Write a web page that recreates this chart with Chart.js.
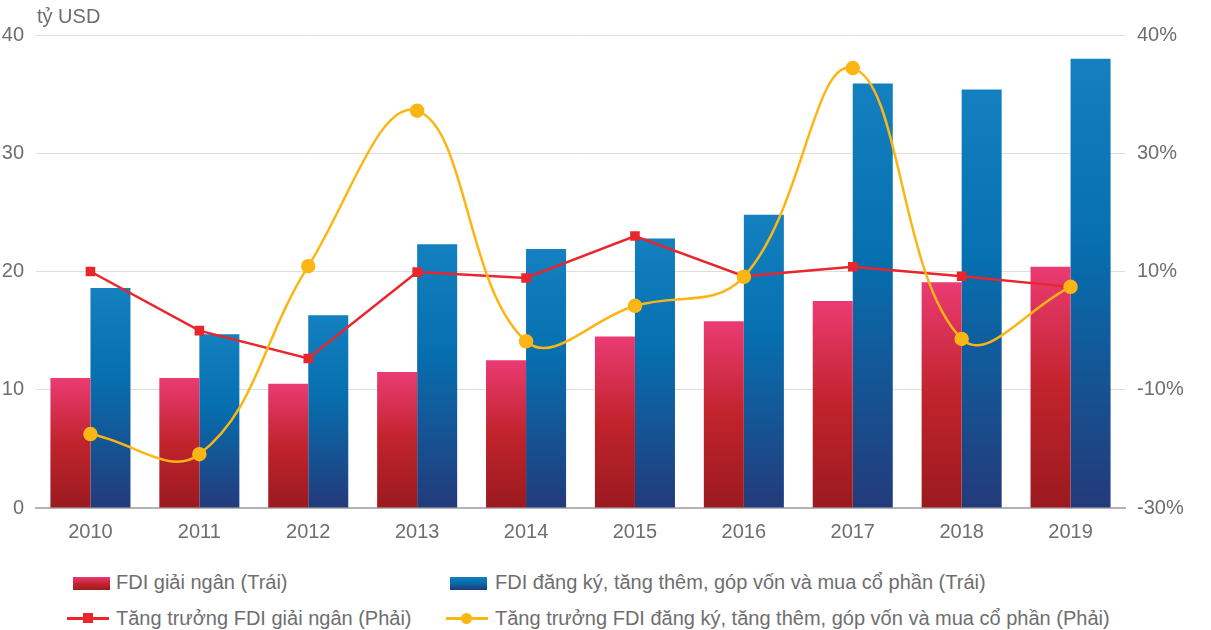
<!DOCTYPE html>
<html>
<head>
<meta charset="utf-8">
<script src="https://cdn.jsdelivr.net/npm/chart.js@4"></script>
<style>
  body { margin: 0; background: #fff; font-family: "Liberation Sans", Arial, sans-serif; }
  #wrap { position: relative; width: 1211px; height: 630px; }
  #chartBox { position: absolute; left: 0; top: 0; width: 1211px; height: 560px; }
  .unit { position: absolute; left: 37px; top: 5px; font-size: 20px; color: #6e6e6e; }
  .lg { position: absolute; font-size: 20px; color: #6e6e6e; white-space: nowrap; line-height: 22px; }
  .box { position: absolute; width: 37px; height: 13px; }
  .ln { position: absolute; height: 3px; }
  .mk { position: absolute; }
</style>
</head>
<body>
<div id="wrap">
  <div id="chartBox"><canvas id="fdiChart" width="1211" height="560"></canvas></div>
  <div class="unit">tỷ USD</div>

  <!-- legend -->
  <div class="box" style="left:73px;top:577px;background:linear-gradient(#e93a72,#c0232c 55%,#9b1b1f);"></div>
  <div class="lg" style="left:116px;top:571px;">FDI giải ngân (Trái)</div>
  <div class="box" style="left:450px;top:577px;background:linear-gradient(#1380bf,#0670b0 40%,#23397a);"></div>
  <div class="lg" style="left:495px;top:571px;">FDI đăng ký, tăng thêm, góp vốn và mua cổ phần (Trái)</div>

  <div class="ln" style="left:67px;top:617px;width:42px;background:#e8262b;"></div>
  <div class="mk" style="left:83px;top:613px;width:10px;height:10px;background:#e8262b;"></div>
  <div class="lg" style="left:116px;top:607px;">Tăng trưởng FDI giải ngân (Phải)</div>
  <div class="ln" style="left:446px;top:617px;width:42px;background:#fbb615;"></div>
  <div class="mk" style="left:461px;top:613px;width:11px;height:11px;border-radius:50%;background:#fbb615;"></div>
  <div class="lg" style="left:495px;top:607px;">Tăng trưởng FDI đăng ký, tăng thêm, góp vốn và mua cổ phần (Phải)</div>
</div>

<script>
// ========================
// DATA
// ========================
const years = ['2010', '2011', '2012', '2013', '2014', '2015', '2016', '2017', '2018', '2019'];
const fdiDisbursed = [11.0, 11.0, 10.5, 11.5, 12.5, 14.5, 15.8, 17.5, 19.1, 20.4];     // tỷ USD
const fdiRegistered = [18.6, 14.7, 16.3, 22.3, 21.9, 22.8, 24.8, 35.9, 35.4, 38.0];    // tỷ USD
const growthDisbursed = [10.0, 0.0, -4.7, 9.9, 8.9, 16.0, 9.2, 10.8, 9.2, 7.4];        // %
const growthRegistered = [-17.5, -20.9, 10.9, 37.2, -1.8, 4.2, 9.1, 44.4, -1.4, 7.4];  // %
const leftTicks = [0, 10, 20, 30, 40];
const rightTickLabels = ['-30%', '-10%', '10%', '30%', '40%'];

const TICK_COLOR = '#6e6e6e';
const TICK_FONT = { family: '"Liberation Sans", Arial, sans-serif', size: 20 };

// per-bar vertical gradient
function barGradient(ctx, stops) {
    const chart = ctx.chart;
    if (!chart.chartArea || !chart.scales.y) return stops[1][1];
    const v = ctx.raw;
    const top = chart.scales.y.getPixelForValue(v);
    const bottom = chart.scales.y.getPixelForValue(0);
    const g = chart.ctx.createLinearGradient(0, top, 0, bottom);
    stops.forEach(s => g.addColorStop(s[0], s[1]));
    return g;
}

const redStops = [[0, '#ea3b73'], [0.5, '#c1232c'], [1, '#9a1a1f']];
const blueStops = [[0, '#1480bf'], [0.4, '#0670b0'], [1, '#233a7a']];

const ctx = document.getElementById('fdiChart').getContext('2d');
const fdiChart = new Chart(ctx, {
    data: {
        labels: years,
        datasets: [
            {
                type: 'line',
                label: 'Tăng trưởng FDI giải ngân (Phải)',
                data: growthDisbursed,
                yAxisID: 'y1',
                borderColor: '#e8262b',
                backgroundColor: '#e8262b',
                borderWidth: 2.5,
                tension: 0,
                pointStyle: 'rect',
                pointRadius: 5,
                pointHoverRadius: 5,
                order: 1
            },
            {
                type: 'line',
                label: 'Tăng trưởng FDI đăng ký, tăng thêm, góp vốn và mua cổ phần (Phải)',
                data: growthRegistered,
                yAxisID: 'y1',
                borderColor: '#fbb615',
                backgroundColor: '#fbb615',
                borderWidth: 2.5,
                tension: 0.4,
                pointStyle: 'circle',
                pointRadius: 6,
                pointHoverRadius: 6,
                order: 0
            },
            {
                type: 'bar',
                label: 'FDI giải ngân (Trái)',
                data: fdiDisbursed,
                yAxisID: 'y',
                backgroundColor: c => barGradient(c, redStops),
                categoryPercentage: 0.735,
                barPercentage: 1.0,
                order: 2
            },
            {
                type: 'bar',
                label: 'FDI đăng ký, tăng thêm, góp vốn và mua cổ phần (Trái)',
                data: fdiRegistered,
                yAxisID: 'y',
                backgroundColor: c => barGradient(c, blueStops),
                categoryPercentage: 0.735,
                barPercentage: 1.0,
                order: 3
            }
        ]
    },
    options: {
        responsive: false,
        animation: false,
        layout: { padding: { top: 35, left: 0, right: 0, bottom: 0 } },
        plugins: {
            legend: { display: false },
            tooltip: { enabled: false }
        },
        scales: {
            x: {
                grid: { display: false, drawTicks: false },
                border: { display: true, color: '#b4b4b4', width: 2 },
                ticks: { color: TICK_COLOR, font: TICK_FONT, padding: 12 },
                afterFit: s => { s.height = 52; }
            },
            y: {
                position: 'left',
                min: 0,
                max: 40,
                afterBuildTicks: s => { s.ticks = leftTicks.map(v => ({ value: v })); },
                grid: { color: '#dedede', lineWidth: 1, drawTicks: false },
                border: { display: false },
                ticks: { color: TICK_COLOR, font: TICK_FONT, padding: 12 },
                afterFit: s => { s.width = 36; }
            },
            y1: {
                position: 'right',
                min: -30,
                max: 50,
                afterBuildTicks: s => { s.ticks = [-30, -10, 10, 30, 50].map(v => ({ value: v })); },
                grid: { display: false, drawTicks: false },
                border: { display: false },
                ticks: {
                    color: TICK_COLOR,
                    font: TICK_FONT,
                    padding: 12,
                    callback: (v, i) => rightTickLabels[i]
                },
                afterFit: s => { s.width = 86; }
            }
        }
    }
});
</script>
</body>
</html>
